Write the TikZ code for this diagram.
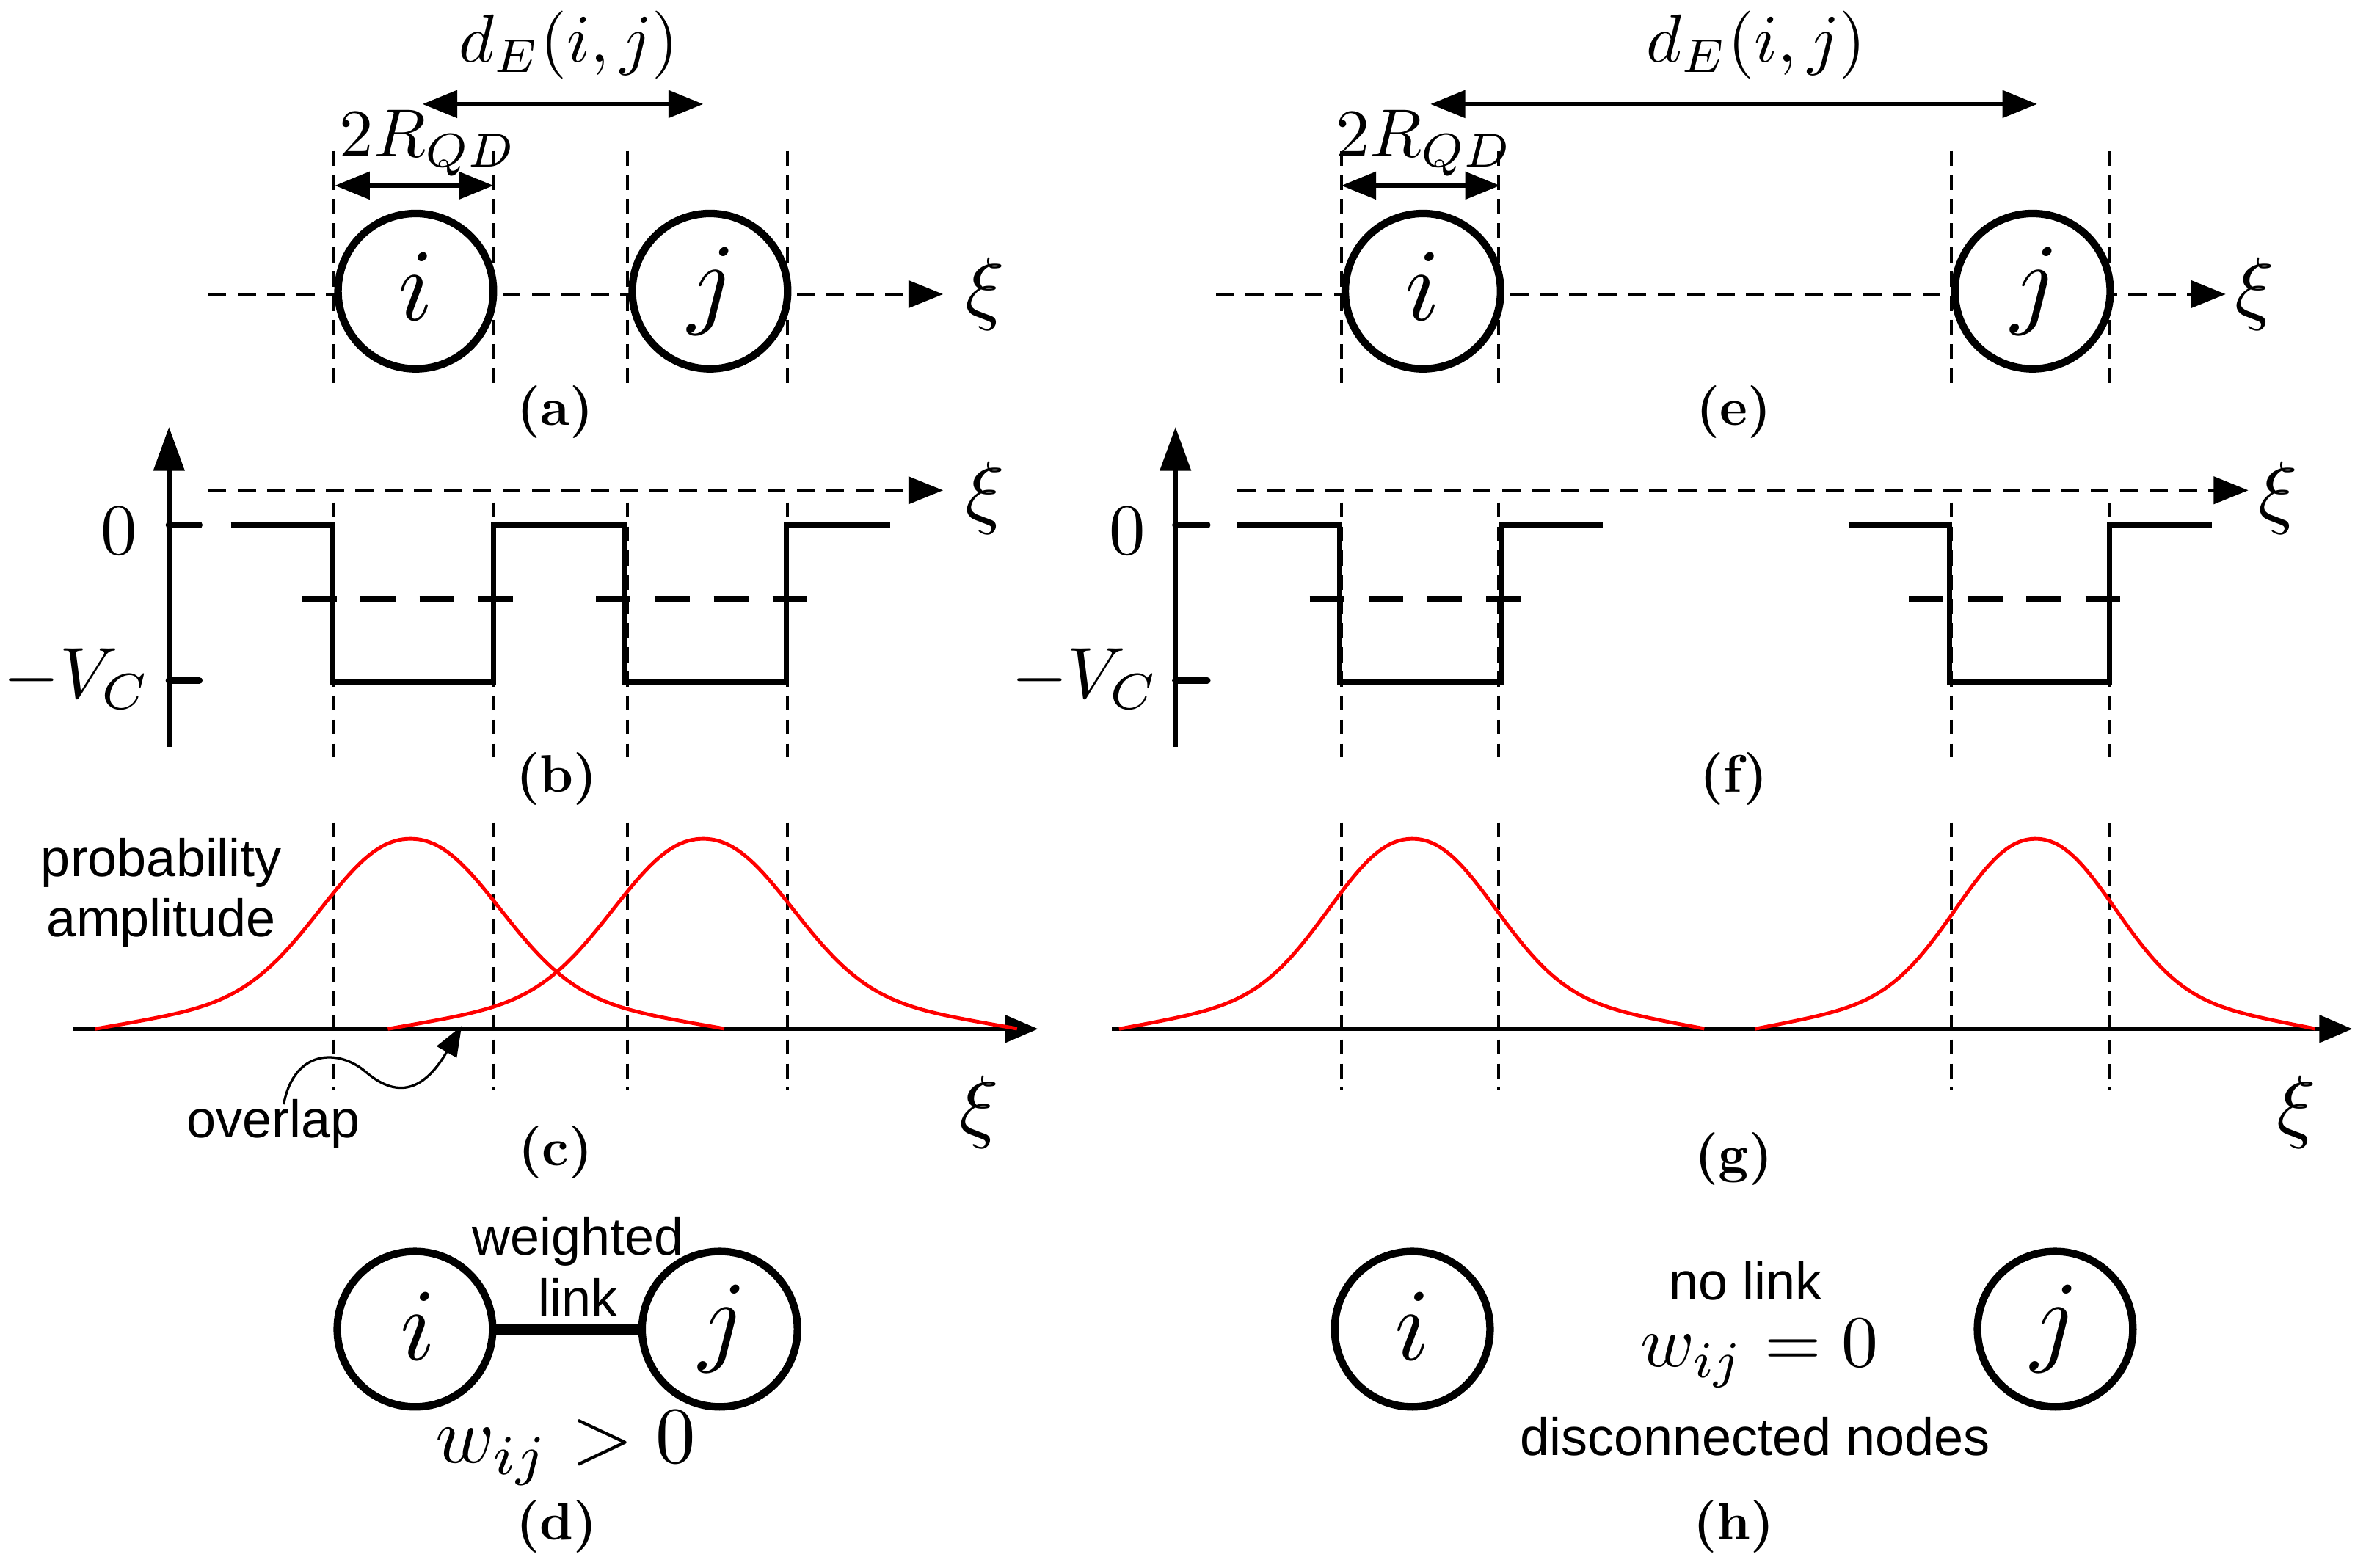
\documentclass[tikz,border=0pt]{standalone}
\usepackage{fontspec}
\setsansfont{Liberation Sans}
\usetikzlibrary{arrows.meta}
\tikzset{
 declare function={bell(\u)=126*(.75*exp(-pow((abs(\u)+.001)/.78,2.2))+.25*(1-(sqrt(\u*\u+.09)-.3)/1.81));},
 x=1pt,y=-1pt,
 every node/.style={inner sep=0pt,outer sep=0pt},
 mathb/.style={scale=5.4},
 mathl/.style={scale=6.8},
 mathm/.style={scale=4.5},
 sans/.style={scale=3.5,font=\sffamily},
 panelcap/.style={scale=3.5,font=\rmfamily\bfseries},
 qd/.style={circle,draw,line width=5pt,minimum size=103pt,fill=white},
 vd/.style={line width=2pt,dash pattern=on 10pt off 6pt},
 hd/.style={line width=2.2pt,dash pattern=on 12pt off 7.5pt,-{Triangle[length=23pt,width=18pt]}},
 well/.style={line width=3.4pt,line join=miter},
 wd/.style={line width=4.5pt,dash pattern=on 23pt off 16pt},
 tickm/.style={line width=4.5pt,line cap=round},
 yaxis/.style={line width=3.4pt,-{Triangle[length=29pt,width=20pt]}},
 base/.style={line width=2.8pt,-{Triangle[length=22pt,width=18pt]}},
 dimm/.style={line width=2.6pt,{Triangle[length=23pt,width=18pt]}-{Triangle[length=23pt,width=18pt]}},
 wave/.style={red,line width=2.4pt},
}
\newcommand{\bellplot}[2]{\draw[wave,shift={(#1,682)},xscale=#2] plot[domain=-209:208,samples=90,smooth] (\x,{-bell(\x/100)});}
\begin{document}
\begin{tikzpicture}
\useasboundingbox[fill=white] (0,0) rectangle (1568,1038.9);

% vertical guide lines
\foreach \n/\xx in {A/221,B/327,C/416,D/522,E/889,F/993,G/1293,H/1398}{
  \coordinate (a\n t) at (\xx,100); \coordinate (a\n b) at (\xx,258);
  \coordinate (b\n t) at (\xx,333); \coordinate (b\n b) at (\xx,502);
  \coordinate (c\n t) at (\xx,545); \coordinate (c\n b) at (\xx,722);
  \draw[vd] (a\n t) -- (a\n b);
  \draw[vd] (b\n t) -- (b\n b);
  \draw[vd] (c\n t) -- (c\n b);
}

% panel a
\coordinate (axs) at (138,195); \coordinate (axe) at (625,195);
\draw[hd] (axs) -- (axe);
\node[qd] (ai) at (275.5,193) {};
\node[qd] (aj) at (470.5,193) {};
\node[mathl] (ail) at (275.5,190) {$i$};
\node[mathl] (ajl) at (472,193) {$j$};
\node[mathb] (axi) at (653,195) {$\xi$};
\node[mathm] (ade) at (377,30) {$d_E(i,j)$};
\coordinate (ad1) at (280,69); \coordinate (ad2) at (466,69);
\draw[dimm] (ad1) -- (ad2);
\node[mathm] (arq) at (284,95) {$2R_{QD}$};
\coordinate (ar1) at (222,123); \coordinate (ar2) at (327,123);
\draw[dimm] (ar1) -- (ar2);
\node[panelcap] (capa) at (368,273) {(a)};

% panel b
\coordinate (bys) at (112,495); \coordinate (bye) at (112,283);
\draw[yaxis] (bys) -- (bye);
\coordinate (bt1) at (112,348); \coordinate (bt1e) at (132,348);
\coordinate (bt2) at (112,451); \coordinate (bt2e) at (132,451);
\draw[tickm] (bt1) -- (bt1e); \draw[tickm] (bt2) -- (bt2e);
\node[scale=4.8] (b0) at (79,352) {$0$};
\node[scale=4.8] (bv) at (51,450) {$-V_C$};
\coordinate (bxs) at (138,325); \coordinate (bxe) at (625,325);
\draw[hd] (bxs) -- (bxe);
\node[mathb] (bxi) at (653,330) {$\xi$};
\coordinate (bw0) at (153,348);
\coordinate (bw1) at (590,348);
\draw[well] (bw0) -- (220,348) -- (220,452) -- (327,452) -- (327,348) -- (414,348) -- (414,452) -- (521,452) -- (521,348) -- (bw1);
\coordinate (bd1) at (200,397); \coordinate (bd2) at (342,397);
\coordinate (bd3) at (395,397); \coordinate (bd4) at (537,397);
\draw[wd] (bd1) -- (bd2); \draw[wd] (bd3) -- (bd4);
\node[panelcap] (capb) at (369,516) {(b)};

% panel c
\coordinate (cxs) at (48,682); \coordinate (cxe) at (688,682);
\draw[base] (cxs) -- (cxe);
\bellplot{272}{1}
\bellplot{466}{1}
\node[sans] (cp) at (107,572) {probability};
\node[sans] (ca) at (107,612) {amplitude};
\node[sans] (cov) at (181,745) {overlap};
\coordinate (covs) at (188,732); \coordinate (cove) at (306,680);
\draw[line width=1.6pt,-{Triangle[length=20pt,width=15pt]}] (covs) .. controls (195,695) and (225,695) .. (243,711) .. controls (262,727) and (280,725) .. (cove);
\node[mathb] (cxi) at (649,737) {$\xi$};
\node[panelcap] (capc) at (368,764) {(c)};

% panel d
\node[qd] (di) at (275,881) {};
\node[qd] (dj) at (477,881) {};
\draw[line width=7pt] (di) -- (dj);
\node[mathl] (dil) at (277,879) {$i$};
\node[mathl] (djl) at (479,881) {$j$};
\node[sans] (dw) at (383,823) {weighted};
\node[sans] (dl) at (383,860) {link};
\node[scale=5.3] (dwl) at (375,960) {$w_{ij}>0$};
\node[panelcap] (capd) at (369,1012) {(d)};

% panel e
\coordinate (exs) at (806,195); \coordinate (exe) at (1475,195);
\draw[hd] (exs) -- (exe);
\node[qd] (ei) at (943,193) {};
\node[qd] (ej) at (1347,193) {};
\node[mathl] (eil) at (943,190) {$i$};
\node[mathl] (ejl) at (1349,193) {$j$};
\node[mathb] (exi) at (1494,195) {$\xi$};
\node[mathm] (ede) at (1164,30) {$d_E(i,j)$};
\coordinate (ed1) at (948,69); \coordinate (ed2) at (1350,69);
\draw[dimm] (ed1) -- (ed2);
\node[mathm] (erq) at (944,95) {$2R_{QD}$};
\coordinate (er1) at (889,123); \coordinate (er2) at (994,123);
\draw[dimm] (er1) -- (er2);
\node[panelcap] (cape) at (1149,273) {(e)};

% panel f
\coordinate (fys) at (779,495); \coordinate (fye) at (779,283);
\draw[yaxis] (fys) -- (fye);
\coordinate (ft1) at (779,348); \coordinate (ft1e) at (800,348);
\coordinate (ft2) at (779,451); \coordinate (ft2e) at (800,451);
\draw[tickm] (ft1) -- (ft1e); \draw[tickm] (ft2) -- (ft2e);
\node[scale=4.8] (f0) at (747,352) {$0$};
\node[scale=4.8] (fv) at (719,450) {$-V_C$};
\coordinate (fxs) at (820,325); \coordinate (fxe) at (1490,325);
\draw[hd] (fxs) -- (fxe);
\node[mathb] (fxi) at (1510,330) {$\xi$};
\coordinate (fw0) at (820,348); \coordinate (fw1) at (1062,348);
\coordinate (fw2) at (1225,348); \coordinate (fw3) at (1466,348);
\draw[well] (fw0) -- (888,348) -- (888,452) -- (995,452) -- (995,348) -- (fw1);
\draw[well] (fw2) -- (1292,348) -- (1292,452) -- (1398,452) -- (1398,348) -- (fw3);
\coordinate (fd1) at (868,397); \coordinate (fd2) at (1010,397);
\coordinate (fd3) at (1265,397); \coordinate (fd4) at (1407,397);
\draw[wd] (fd1) -- (fd2); \draw[wd] (fd3) -- (fd4);
\node[panelcap] (capf) at (1149,516) {(f)};

% panel g
\coordinate (gxs) at (737,682); \coordinate (gxe) at (1559,682);
\draw[base] (gxs) -- (gxe);
\bellplot{936}{.93}
\bellplot{1349}{.89}
\node[mathb] (gxi) at (1522,737) {$\xi$};
\node[panelcap] (capg) at (1149,768) {(g)};

% panel h
\node[qd] (hi) at (936,881) {};
\node[qd] (hj) at (1362,881) {};
\node[mathl] (hil) at (936,879) {$i$};
\node[mathl] (hjl) at (1362,881) {$j$};
\node[sans] (hn) at (1157,849) {no link};
\node[scale=4.85] (hw) at (1166,897) {$w_{ij}=0$};
\node[sans] (hdn) at (1163,952) {disconnected nodes};
\node[panelcap] (caph) at (1149,1012) {(h)};
\end{tikzpicture}
\end{document}
